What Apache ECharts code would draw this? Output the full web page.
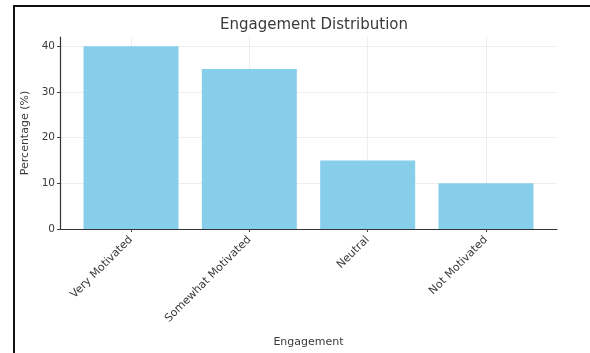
<!DOCTYPE html>
<html>
<head>
<meta charset="utf-8">
<script src="https://cdn.jsdelivr.net/npm/echarts@6/dist/echarts.min.js"></script>
<style>
  html, body { margin: 0; padding: 0; background: #fff; }
  #frame {
    position: absolute; left: 13px; top: 5px; width: 577px; height: 348px;
    border-left: 2px solid #111; border-top: 2px solid #111; box-sizing: border-box;
    pointer-events: none; z-index: 2;
  }
  #chart { position: absolute; left: 0; top: 0; width: 590px; height: 353px; }
</style>
</head>
<body>
<div id="chart"></div>
<div id="frame"></div>
<script>
// Engagement levels and the share of respondents in each
const categories = ['Very Motivated', 'Somewhat Motivated', 'Neutral', 'Not Motivated'];
const percentages = [40, 35, 15, 10];
const yTicks = [0, 10, 20, 30, 40];
const xTicks = [0, 1, 2, 3];

const textColor = '#3a3a3a';
const font = 'DejaVu Sans';

const chart = echarts.init(document.getElementById('chart'), null, { renderer: 'canvas' });

chart.setOption({
  backgroundColor: '#fff',
  animation: false,
  title: {
    text: 'Engagement Distribution',
    left: 309, top: 13, textAlign: 'center',
    textStyle: { fontFamily: font, fontSize: 15, fontWeight: 'normal', color: textColor }
  },
  grid: { left: 60, right: 33, top: 37, bottom: 122, containLabel: false },
  xAxis: {
    type: 'value',
    min: -0.6, max: 3.6,
    name: 'Engagement',
    nameLocation: 'middle',
    nameGap: 108,
    nameTextStyle: { fontFamily: font, fontSize: 11, color: textColor },
    axisLine: { show: true, onZero: false, lineStyle: { color: '#333', width: 1.2 } },
    axisTick: { show: true, customValues: xTicks, length: 3, lineStyle: { color: '#444' } },
    axisLabel: {
      customValues: xTicks,
      rotate: 45, margin: 9,
      fontFamily: font, fontSize: 11, color: textColor,
      formatter: v => categories[Math.round(v)]
    },
    splitLine: { show: true, lineStyle: { color: '#eeeeee', width: 1 } }
  },
  yAxis: {
    type: 'value',
    min: 0, max: 42,
    name: 'Percentage (%)',
    nameLocation: 'middle',
    nameGap: 19,
    nameTextStyle: { fontFamily: font, fontSize: 11, color: textColor },
    axisLine: { show: true, onZero: false, lineStyle: { color: '#333', width: 1.2 } },
    axisTick: { show: true, customValues: yTicks, length: 3, lineStyle: { color: '#444' } },
    axisLabel: {
      customValues: yTicks,
      margin: 5, fontFamily: font, fontSize: 10.5, color: textColor
    },
    splitLine: { show: true, lineStyle: { color: '#eeeeee', width: 1 } }
  },
  series: [{
    type: 'bar',
    data: percentages.map((v, i) => [i, v]),
    barWidth: 95,
    itemStyle: { color: '#87CEEB' }
  }]
});
</script>
</body>
</html>
